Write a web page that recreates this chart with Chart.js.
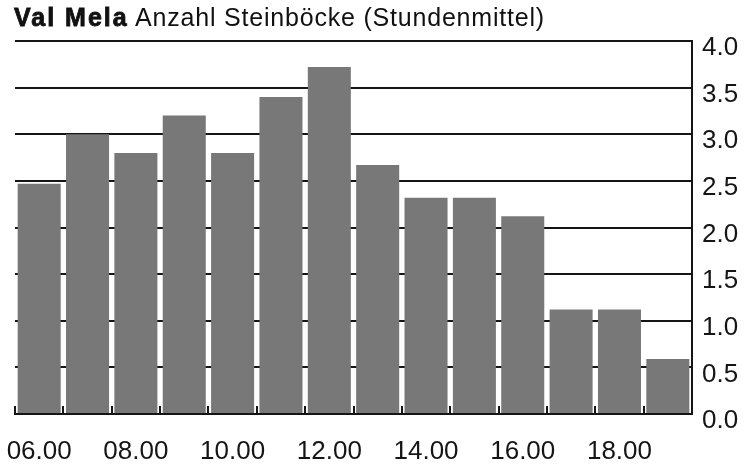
<!DOCTYPE html>
<html>
<head>
<meta charset="utf-8">
<script src="https://cdn.jsdelivr.net/npm/chart.js@4"></script>
<style>
    html, body { margin: 0; padding: 0; background: #fff; }
    #wrap { position: relative; width: 755px; height: 468px; }
    #title {
        position: absolute;
        left: 14px;
        top: 3px;
        font-family: 'Liberation Sans', Arial, sans-serif;
        font-size: 25px;
        letter-spacing: 0.8px;
        color: #111;
        white-space: nowrap;
    }
    #title b {
        font-weight: 900;
        letter-spacing: 2px;
        -webkit-text-stroke: 0.8px #111;
    }
</style>
</head>
<body>
<div id="wrap">
    <div id="title"><b>Val Mela</b> Anzahl Steinböcke (Stundenmittel)</div>
    <canvas id="chart" width="755" height="468"></canvas>
</div>
<script>
// Hourly categories
const hours = [
    '06.00', '07.00', '08.00', '09.00', '10.00', '11.00', '12.00',
    '13.00', '14.00', '15.00', '16.00', '17.00', '18.00', '19.00',
];
// Labels that are printed under the axis
const shownHours = ['06.00', '08.00', '10.00', '12.00', '14.00', '16.00', '18.00'];
// Mean number of ibex per hour
const ibexMean = [2.47, 3.0, 2.8, 3.2, 2.8, 3.4, 3.72, 2.67, 2.32, 2.32, 2.12, 1.12, 1.12, 0.59];

const INK = '#151515';

// Short upward ticks on the baseline between the bars
const boundaryTicks = {
    id: 'boundaryTicks',
    afterDatasetsDraw: (chart) => {
        const ctx = chart.ctx;
        const x = chart.scales.x;
        const bottom = chart.chartArea.bottom;
        const slot = x.getPixelForValue(1) - x.getPixelForValue(0);
        ctx.save();
        ctx.strokeStyle = INK;
        ctx.lineWidth = 2;
        for (let i = 0; i < hours.length; i++) {
            const px = Math.round(x.getPixelForValue(i) - slot / 2);
            ctx.beginPath();
            ctx.moveTo(px, bottom - 8);
            ctx.lineTo(px, bottom);
            ctx.stroke();
        }
        ctx.restore();
    },
};

Chart.defaults.font.family = "'Liberation Sans', Arial, sans-serif";

new Chart(document.getElementById('chart'), {
    type: 'bar',
    data: {
        labels: hours,
        datasets: [
            {
                data: ibexMean,
                backgroundColor: '#787878',
                borderWidth: 0,
                barPercentage: 0.89,
                categoryPercentage: 1,
            },
        ],
    },
    plugins: [boundaryTicks],
    options: {
        responsive: false,
        devicePixelRatio: 1,
        animation: false,
        layout: {
            padding: { left: 15, right: 0, top: 41, bottom: 0 },
        },
        plugins: {
            legend: { display: false },
            tooltip: { enabled: false },
        },
        scales: {
            x: {
                offset: true,
                grid: { display: false, drawTicks: false },
                border: { display: true, color: INK, width: 2 },
                ticks: {
                    color: INK,
                    font: { size: 26 },
                    padding: 22,
                    autoSkip: false,
                    maxRotation: 0,
                    callback: (v, i) =>
                        shownHours.includes(hours[i]) ? hours[i] : '',
                },
                afterFit: (scale) => {
                    scale.height = 54;
                    scale.paddingLeft = 0;
                    scale.paddingRight = 0;
                },
            },
            y: {
                position: 'right',
                min: 0,
                max: 4,
                grid: { color: INK, lineWidth: 2, drawTicks: false },
                border: { display: true, color: INK, width: 2 },
                ticks: {
                    stepSize: 0.5,
                    color: INK,
                    font: { size: 26 },
                    padding: 10,
                    labelOffset: 7,
                    callback: (v) => v.toFixed(1),
                },
                afterFit: (scale) => {
                    scale.width = 63;
                    scale.paddingTop = 0;
                    scale.paddingBottom = 0;
                },
            },
        },
    },
});
</script>
</body>
</html>
